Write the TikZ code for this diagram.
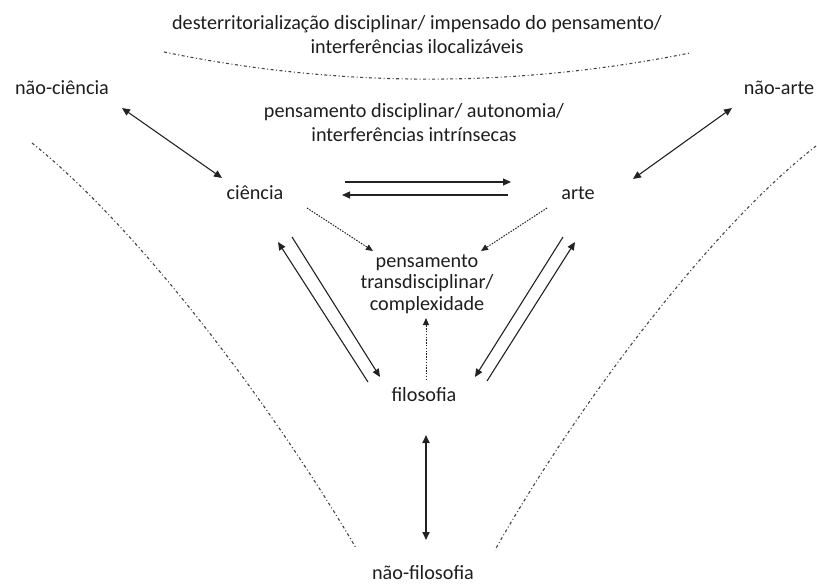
\documentclass[tikz,border=0pt]{standalone}
\usepackage{fontspec}
\setmainfont{Carlito}
\usetikzlibrary{arrows.meta}
\definecolor{ink}{HTML}{1E1E1E}
\definecolor{ln}{HTML}{222222}
\definecolor{bd}{HTML}{444444}
\begin{document}
\begin{tikzpicture}[x=1pt,y=-1pt,
  lbl/.style={inner sep=0pt,text=ink,font=\fontsize{20.2}{24}\selectfont,align=center},
  solidarr/.style={draw=ln,line width=1.1pt,-{Triangle[length=8pt,width=7pt]}},
  dblarr/.style={draw=ln,line width=1.1pt,{Triangle[length=8pt,width=7pt]}-{Triangle[length=8pt,width=7pt]}},
  dotarr/.style={draw=ln,line width=1pt,dash pattern=on 1.5pt off 1.3pt,-{Triangle[length=7pt,width=6pt]}},
  border/.style={draw=bd,line width=1.1pt,dash pattern=on 3pt off 2.5pt on 1pt off 2.5pt}]
\useasboundingbox (0,0) rectangle (817,586);

% texts
\node[lbl] (titulo) at (417,35) {desterritorialização disciplinar/ impensado do pensamento/\\interferências ilocalizáveis};
\node[lbl] (disc) at (414,123) {pensamento disciplinar/ autonomia/\\interferências intrínsecas};
\node[lbl] (naociencia) at (62,88) {não-ciência};
\node[lbl] (naoarte) at (779,88) {não-arte};
\node[lbl] (ciencia) at (255,193) {ciência};
\node[lbl] (arte) at (578,193) {arte};
\node[lbl,font=\fontsize{20.2}{21.5}\selectfont] (trans) at (427,284) {pensamento\\transdisciplinar/\\complexidade};
\node[lbl] (filosofia) at (424,395) {filosofia};
\node[lbl] (naofilosofia) at (423,573) {não-filosofia};

% borders
\coordinate (tl) at (164,52);
\coordinate (tr) at (690,53);
\draw[border] (tl) .. controls (339,88) and (515,88) .. (tr);
\coordinate (ll) at (32,143);
\coordinate (lb) at (356,548);
\draw[border] (ll) .. controls (142,231) and (276,412) .. (lb);
\coordinate (rr) at (816,146);
\coordinate (rb) at (495,550);
\draw[border] (rr) .. controls (707,231) and (573,412) .. (rb);

% end points
\coordinate (nc1) at (122,108); \coordinate (nc2) at (222,178);
\coordinate (na1) at (732,108); \coordinate (na2) at (633,179);
\coordinate (ca1) at (345,182); \coordinate (ca2) at (511,182);
\coordinate (ac1) at (508,195); \coordinate (ac2) at (342,195);
\coordinate (ct1) at (307,208); \coordinate (ct2) at (373,251);
\coordinate (at1) at (547,208); \coordinate (at2) at (481,251);
\coordinate (ft1) at (426,380); \coordinate (ft2) at (426,318);
\coordinate (fc1) at (368,382); \coordinate (fc2) at (278,242);
\coordinate (cf1) at (292,237); \coordinate (cf2) at (380,377);
\coordinate (af1) at (563,237); \coordinate (af2) at (475,377);
\coordinate (fa1) at (487,381); \coordinate (fa2) at (575,242);
\coordinate (fn1) at (426,435); \coordinate (fn2) at (426,540);

\draw[dblarr] (nc1) -- (nc2);
\draw[dblarr] (na1) -- (na2);
\draw[solidarr] (ca1) -- (ca2);
\draw[solidarr] (ac1) -- (ac2);
\draw[dotarr] (ct1) -- (ct2);
\draw[dotarr] (at1) -- (at2);
\draw[dotarr] (ft1) -- (ft2);
\draw[solidarr] (fc1) -- (fc2);
\draw[solidarr] (cf1) -- (cf2);
\draw[solidarr] (af1) -- (af2);
\draw[solidarr] (fa1) -- (fa2);
\draw[dblarr,line width=1.7pt] (fn1) -- (fn2);
\end{tikzpicture}
\end{document}
